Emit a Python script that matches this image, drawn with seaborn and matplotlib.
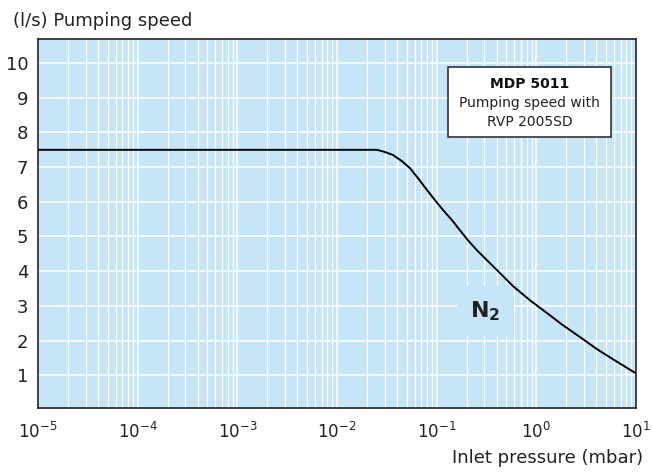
import numpy as np
import pandas as pd
import matplotlib
matplotlib.use("Agg")
import matplotlib.pyplot as plt
import seaborn as sns
from matplotlib.ticker import FixedLocator, NullFormatter

# Data
pressure = [1e-5, 0.0252, 0.030, 0.0365, 0.0449, 0.054, 0.065, 0.080, 0.096,
            0.116, 0.1425, 0.171, 0.206, 0.254, 0.403, 0.583, 0.863, 1.28,
            1.85, 2.74, 4.06, 5.87, 9.12, 10.0]
speed = [7.5, 7.5, 7.44, 7.35, 7.17, 6.97, 6.68, 6.34, 6.05,
         5.76, 5.47, 5.18, 4.89, 4.6, 4.03, 3.57, 3.16, 2.79,
         2.44, 2.10, 1.75, 1.46, 1.12, 1.06]
y_ticks = [1, 2, 3, 4, 5, 6, 7, 8, 9, 10]
x_exponents = [-5, -4, -3, -2, -1, 0, 1]
x_ticks = [10.0 ** e for e in x_exponents]
x_labels = [r"$10^{%d}$" % e for e in x_exponents]

BG = "#c6e6f8"
sns.set_style("white", {"axes.facecolor": BG, "axes.edgecolor": "#222222"})
plt.rcParams['font.family'] = ['DejaVu Sans']

df = pd.DataFrame({"pressure": pressure, "speed": speed})

fig = plt.figure(figsize=(6.52, 4.74), dpi=100)
ax = fig.add_axes([0.0583, 0.139, 0.9172, 0.779])
ax.set_xscale("log")

sns.lineplot(data=df, x="pressure", y="speed", ax=ax, color="black", lw=1.4, zorder=5)

ax.set_xlim(1e-5, 10)
ax.set_ylim(0.05, 10.7)
ax.set_yticks(y_ticks)
ax.set_yticklabels([str(v) for v in y_ticks])
ax.set_xticks(x_ticks)
ax.set_xticklabels(x_labels)
minor = [m * 10.0 ** e for e in x_exponents[:-1] for m in range(2, 10)]
ax.xaxis.set_minor_locator(FixedLocator(minor))
ax.xaxis.set_minor_formatter(NullFormatter())

ax.grid(True, which="major", axis="both", color="white", lw=1.1, zorder=0)
ax.grid(True, which="minor", axis="x", color="white", lw=0.9, zorder=0)
ax.set_axisbelow(True)

ax.tick_params(axis="both", which="major", direction="out", length=4, width=1,
               color="#222222", labelsize=13, labelcolor="#222222", pad=3)
ax.tick_params(axis="x", which="major", pad=6, labelsize=12)
ax.tick_params(axis="x", which="minor", length=0)
for s in ax.spines.values():
    s.set_linewidth(1.2)
    s.set_color("#222222")

ax.set_xlabel("")
ax.set_ylabel("")
fig.text(0.020, 0.955, "(l/s) Pumping speed", fontsize=13, color="#222222",
         ha="left", va="center")
fig.text(0.986, 0.034, "Inlet pressure (mbar)", fontsize=13, color="#222222",
         ha="right", va="center")

# Info box
ax.add_patch(plt.Rectangle((0.686, 0.734), 0.272, 0.19, transform=ax.transAxes,
                           facecolor="white", edgecolor="#222222", lw=1.1, zorder=6))
ax.text(0.822, 0.877, "MDP 5011", transform=ax.transAxes, fontsize=10,
        fontweight="bold", ha="center", va="center", color="#111111", zorder=7)
ax.text(0.822, 0.827, "Pumping speed with", transform=ax.transAxes, fontsize=10,
        ha="center", va="center", color="#222222", zorder=7)
ax.text(0.822, 0.776, "RVP 2005SD", transform=ax.transAxes, fontsize=10,
        ha="center", va="center", color="#222222", zorder=7)

# N2 label (background patch sits under the curve)
ax.text(0.748, 0.263, r"N$_\mathbf{2}$", transform=ax.transAxes, fontsize=16,
        fontweight="bold", ha="center", va="center", color="#222222", zorder=3,
        bbox=dict(boxstyle="square,pad=0.6", facecolor=BG, edgecolor="none"))

fig.savefig("out.png", dpi=100)
